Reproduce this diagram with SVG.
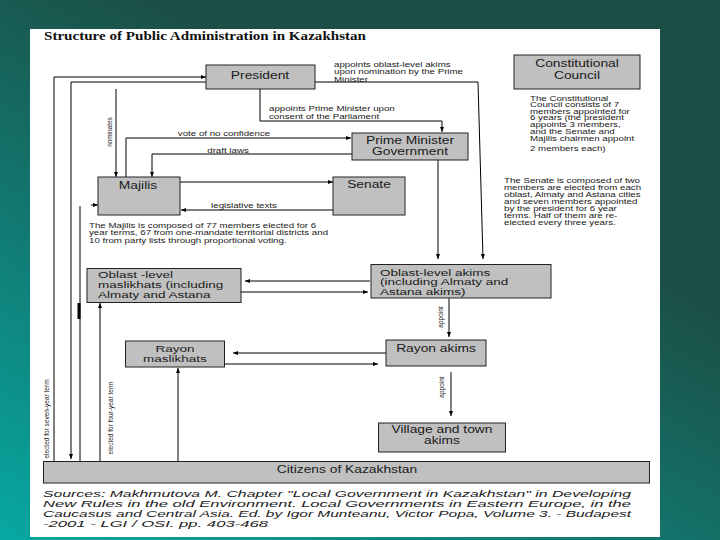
<svg xmlns="http://www.w3.org/2000/svg" width="720" height="540" viewBox="0 0 720 540">
<defs>
<linearGradient id="bg" x1="0" y1="1" x2="0.55" y2="0.25">
<stop offset="0" stop-color="#07a8a2"/>
<stop offset="1" stop-color="#1b4f45"/>
</linearGradient>
<marker id="ah" viewBox="0 0 10 10" refX="10" refY="5" markerWidth="5" markerHeight="5" orient="auto" markerUnits="userSpaceOnUse">
<path d="M0,1 L10,5 L0,9 z" fill="#000"/>
</marker>
<style>
.box{fill:#c0c0c0;stroke:#222;stroke-width:1}
.lbl{font-family:"Liberation Sans",Arial,sans-serif;font-size:10px;fill:#1a1a1a}
.lb3{font-family:"Liberation Sans",Arial,sans-serif;font-size:9px;fill:#1a1a1a}
.mid{text-anchor:middle}
.sm{font-family:"Liberation Sans",Arial,sans-serif;font-size:6.4px;fill:#1a1a1a}
.tiny{font-family:"Liberation Sans",Arial,sans-serif;font-size:6.5px;fill:#1a1a1a}
.ln{fill:none;stroke:#000;stroke-width:1}
.ar{marker-end:url(#ah)}
.src{font-family:"Liberation Sans",Arial,sans-serif;font-size:9.4px;font-style:italic;fill:#1a1a1a}
</style>
</defs>
<rect x="0" y="0" width="720" height="540" fill="url(#bg)"/>
<rect x="30" y="29" width="630" height="508" fill="#fff"/>
<text x="44" y="40" font-family="Liberation Serif,Times New Roman,serif" font-weight="bold" font-size="12.5" fill="#111" textLength="322" lengthAdjust="spacingAndGlyphs">Structure of Public Administration in Kazakhstan</text>

<g id="connectors">
<polyline class="ln ar" points="315,82 478,82 483,259"/>
<polyline class="ln ar" points="260,89 260,121 442,121 442,132"/>
<line class="ln ar" x1="116" y1="89" x2="116" y2="177"/>
<polyline class="ln ar" points="126,177 126,138 351,138"/>
<polyline class="ln ar" points="352,154 152,154 152,177"/>
<line class="ln ar" x1="180" y1="182" x2="333" y2="182"/>
<line class="ln ar" x1="333" y1="210" x2="181" y2="210"/>
<line class="ln ar" x1="438" y1="160" x2="438" y2="259"/>
<line class="ln ar" x1="370" y1="281" x2="245" y2="281"/>
<line class="ln ar" x1="241" y1="292" x2="368" y2="292"/>
<line class="ln ar" x1="449" y1="298" x2="449" y2="337"/>
<line class="ln ar" x1="386" y1="353" x2="233" y2="353"/>
<line class="ln ar" x1="225" y1="364" x2="378" y2="364"/>
<line class="ln ar" x1="451" y1="372" x2="451" y2="416"/>
<polyline class="ln ar" points="54,461 54,77 206,77"/>
<polyline class="ln ar" points="206,82 71,82 71,459"/>
<line class="ln" x1="80" y1="461" x2="80" y2="206"/>
<line class="ln ar" x1="91" y1="205" x2="98" y2="205"/>
<rect x="77.5" y="303" width="3" height="16" fill="#000"/>
<line class="ln ar" x1="100" y1="461" x2="100" y2="303"/>
<line class="ln ar" x1="178" y1="461" x2="178" y2="368"/>
</g>

<g id="labels">
<g class="sm" transform="translate(334 0) scale(1.52 1)">
<text x="0" y="67">appoints oblast-level akims</text>
<text x="0" y="74.5">upon nomination by the Prime</text>
<text x="0" y="82">Minister</text>
</g>
<g class="sm" transform="translate(269 0) scale(1.52 1)">
<text x="0" y="111.5">appoints Prime Minister upon</text>
<text x="0" y="119">consent of the Parliament</text>
</g>
<text class="sm mid" transform="translate(224 136) scale(1.52 1)">vote of no confidence</text>
<text class="sm mid" transform="translate(228 152.5) scale(1.52 1)">draft laws</text>
<text class="sm mid" transform="translate(244 207.5) scale(1.52 1)">legislative texts</text>
<text class="sm mid" transform="translate(112 132) rotate(-90)">nominates</text>
<text class="tiny mid" transform="translate(443 317) rotate(-90)">appoint</text>
<text class="tiny mid" transform="translate(444 387) rotate(-90)">appoint</text>
<text class="tiny mid" transform="translate(49 419) rotate(-90)">elected for seven-year term</text>
<text class="tiny mid" transform="translate(113 418) rotate(-90)">elected for four-year term</text>
</g>

<g id="president">
<rect class="box" x="206" y="65" width="109" height="24"/>
<text class="lbl mid" transform="translate(260 79) scale(1.38 1)">President</text>
</g>
<g id="constitutional-council">
<rect class="box" x="514" y="55" width="126" height="34"/>
<text class="lbl mid" transform="translate(577 67) scale(1.38 1)">Constitutional</text>
<text class="lbl mid" transform="translate(577 78.5) scale(1.38 1)">Council</text>
<g class="sm" transform="translate(530 0) scale(1.52 1)">
<text x="0" y="101">The Constitutional</text>
<text x="0" y="107.5">Council consists of 7</text>
<text x="0" y="114">members appointed for</text>
<text x="0" y="120.5">6 years (the president</text>
<text x="0" y="127.5">appoints 3 members,</text>
<text x="0" y="134">and the Senate and</text>
<text x="0" y="141">Majilis chairmen appoint</text>
<text x="0" y="151">2 members each)</text>
</g>
</g>
<g id="prime-minister">
<rect class="box" x="352" y="133" width="116" height="27"/>
<text class="lbl mid" transform="translate(410 143.5) scale(1.38 1)">Prime Minister</text>
<text class="lbl mid" transform="translate(410 154.5) scale(1.38 1)">Government</text>
</g>
<g id="majilis">
<rect class="box" x="98" y="177" width="82" height="38"/>
<text class="lbl mid" transform="translate(138 189) scale(1.38 1)">Majilis</text>
<g class="sm" transform="translate(89 0) scale(1.52 1)">
<text x="0" y="228">The Majilis is composed of 77 members elected for 6</text>
<text x="0" y="235">year terms, 67 from one-mandate territorial districts and</text>
<text x="0" y="243.5">10 from party lists through proportional voting.</text>
</g>
</g>
<g id="senate">
<rect class="box" x="333" y="177" width="72" height="38"/>
<text class="lbl mid" transform="translate(369 188) scale(1.38 1)">Senate</text>
<g class="sm" transform="translate(504 0) scale(1.52 1)">
<text x="0" y="183">The Senate is composed of two</text>
<text x="0" y="190">members are elected from each</text>
<text x="0" y="197">oblast, Almaty and Astana cities</text>
<text x="0" y="204">and seven members appointed</text>
<text x="0" y="211">by the president for 6 year</text>
<text x="0" y="218">terms. Half of them are re-</text>
<text x="0" y="225.5">elected every three years.</text>
</g>
</g>
<g id="oblast-akims">
<rect class="box" x="371" y="264.5" width="180" height="33.5"/>
<g class="lb3" transform="translate(380 0) scale(1.5 1)">
<text x="0" y="276">Oblast-level akims</text>
<text x="0" y="285.5">(including Almaty and</text>
<text x="0" y="295">Astana akims)</text>
</g>
</g>
<g id="oblast-maslikhats">
<rect class="box" x="87" y="268.5" width="154" height="34"/>
<g class="lb3" transform="translate(98 0) scale(1.5 1)">
<text x="0" y="278.5">Oblast -level</text>
<text x="0" y="288">maslikhats (including</text>
<text x="0" y="298">Almaty and Astana</text>
</g>
</g>
<g id="rayon-akims">
<rect class="box" x="386" y="340" width="100" height="26"/>
<text class="lbl mid" transform="translate(436 352) scale(1.38 1)">Rayon akims</text>
</g>
<g id="rayon-maslikhats">
<rect class="box" x="125.5" y="341" width="99" height="26"/>
<text class="lb3 mid" transform="translate(175 351.5) scale(1.5 1)">Rayon</text>
<text class="lb3 mid" transform="translate(175 362) scale(1.5 1)">maslikhats</text>
</g>
<g id="village-akims">
<rect class="box" x="378.5" y="423" width="127" height="29"/>
<text class="lbl mid" transform="translate(442 432.5) scale(1.38 1)">Village and town</text>
<text class="lbl mid" transform="translate(442 443.5) scale(1.38 1)">akims</text>
</g>
<g id="citizens">
<rect class="box" x="43.5" y="461.5" width="606" height="21.5"/>
<text class="lbl mid" transform="translate(347 472.5) scale(1.38 1)">Citizens of Kazakhstan</text>
</g>

<g id="sources">
<text class="src" x="43" y="497" textLength="588" lengthAdjust="spacingAndGlyphs">Sources: Makhmutova M. Chapter "Local Government in Kazakhstan" in Developing</text>
<text class="src" x="43" y="507" textLength="588" lengthAdjust="spacingAndGlyphs">New Rules in the old Environment. Local Governments in Eastern Europe, in the</text>
<text class="src" x="43" y="517" textLength="588" lengthAdjust="spacingAndGlyphs">Caucasus and Central Asia. Ed. by Igor Munteanu, Victor Popa, Volume 3. - Budapest</text>
<text class="src" x="43" y="527" textLength="225" lengthAdjust="spacingAndGlyphs">-2001 - LGI / OSI. pp. 403-468</text>
</g>
</svg>
